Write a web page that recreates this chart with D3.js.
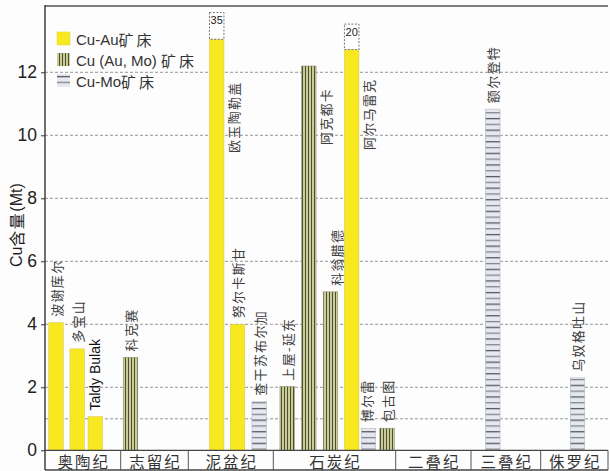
<!DOCTYPE html>
<html>
<head>
<meta charset="utf-8">
<script src="https://cdn.jsdelivr.net/npm/d3@7"></script>
<style>
  html, body { margin: 0; padding: 0; background: #fff; }
  svg { display: block; }
  text { font-family: "Liberation Sans", Arial, "Noto Sans CJK SC", sans-serif; }
  .cjk { font-family: "Noto Sans CJK SC", sans-serif; }
</style>
</head>
<body>
<svg id="chart" width="610" height="471"></svg>
<script>
// Copper deposits, their type and copper tonnage (Mt)
const deposits = ["波谢库尔", "多宝山", "Taldy Bulak", "科克赛", "欧玉陶勒盖", "努尔卡斯甘",
  "查干苏布尔加", "上屋-延东", "阿克都卡", "科翁腊德", "阿尔马雷克", "博尔雷", "包古图",
  "额尔登特", "乌奴格吐山"];
const depositTypes = ["Au", "Au", "Au", "AuMo", "Au", "Au", "Mo", "AuMo", "AuMo", "AuMo",
  "Au", "Mo", "AuMo", "Mo", "Mo"];
const cuMt = [4.05, 3.22, 1.07, 2.95, 35, 4.0, 1.54, 2.02, 12.2, 5.03, 20, 0.7, 0.7, 10.83, 2.3];

// Geological periods along the bottom strip
const periods = ["奥陶纪", "志留纪", "泥盆纪", "石炭纪", "二叠纪", "三叠纪", "侏罗纪"];

// Y axis
const yTicks = [0, 2, 4, 6, 8, 10, 12];
const yGrid = [1, 2, 4, 6, 8, 10, 12];

// Legend entries
const legendKeys = ["Au", "AuMo", "Mo"];
const legendLatin = ["Cu-Au", "Cu (Au, Mo) ", "Cu-Mo"];
const legendCjk = ["矿床", "矿床", "矿床"];

// ---- layout (horizontal slot units, 1 unit = 10 px) ----
const slotCenter = [1.1, 3.22, 5.03, 8.55, 17.17, 19.25, 21.42, 24.22, 26.38, 28.55, 30.67,
  32.35, 34.2, 44.78, 53.25];
const periodEdges = [0, 7.57, 14.33, 22.83, 35.07, 42.6, 49.57, 56.3];
const barUnits = 1.45;
// axis break: the two off-scale bars are cut here, a dashed box carries the value
const breakTop = { 4: 13.05, 10: 12.72 };
const breakBoxTop = { 4: 13.9, 10: 13.53 };
// labels set beside the bar instead of above it (value where the text starts)
const sideLabel = { 4: 9.44, 8: 9.69, 10: 9.53 };
const labelShift = { 9: 6, 11: -2.5 };

const svg = d3.select("#chart");
const W = 610, H = 471;
const plotLeft = 45, plotRight = 608, plotTop = 6, baseY = 450.3, stripBottom = 470;

const x = d3.scaleLinear().domain([0, 56.3]).range([plotLeft, plotRight]);
const y = d3.scaleLinear().domain([0, 12]).range([baseY, baseY - 378]);

svg.append("rect").attr("width", W).attr("height", H).attr("fill", "#fdfdfd");

// ---- patterns ----
const defs = svg.append("defs");
const pv = defs.append("pattern").attr("id", "pAuMo").attr("patternUnits", "userSpaceOnUse")
  .attr("width", 3).attr("height", 10);
pv.append("rect").attr("width", 3).attr("height", 10).attr("fill", "#c9cd95");
pv.append("rect").attr("x", 2).attr("width", 1).attr("height", 10).attr("fill", "#4d4f38");

const ph = defs.append("pattern").attr("id", "pMo").attr("patternUnits", "userSpaceOnUse")
  .attr("width", 10).attr("height", 11.6);
ph.append("rect").attr("width", 10).attr("height", 11.6).attr("fill", "#e5e9ef");
ph.append("rect").attr("y", 2).attr("width", 10).attr("height", 1.2).attr("fill", "#4a4c52");
ph.append("rect").attr("y", 7.8).attr("width", 10).attr("height", 1.2).attr("fill", "#7a7d84");

const fills = { Au: "#f8e820", AuMo: "url(#pAuMo)", Mo: "url(#pMo)" };
const strokes = { Au: "#d8cc60", AuMo: "#8c8e70", Mo: "#b4b8c0" };

// ---- grid ----
svg.append("g").selectAll("line").data(yGrid).join("line")
  .attr("x1", plotLeft).attr("x2", plotRight)
  .attr("y1", d => y(d)).attr("y2", d => y(d))
  .attr("stroke", "#8a8a8a").attr("stroke-width", 0.9).attr("stroke-dasharray", "3,2");

// ---- bars ----
const bars = deposits.map((name, i) => ({
  name, i, type: depositTypes[i], v: cuMt[i],
  shown: breakTop[i] !== undefined ? breakTop[i] : cuMt[i],
  cx: x(slotCenter[i])
}));
const bw = x(barUnits) - x(0);

svg.append("g").selectAll("rect").data(bars).join("rect")
  .attr("x", d => d.cx - bw / 2).attr("width", bw)
  .attr("y", d => y(d.shown)).attr("height", d => baseY - y(d.shown))
  .attr("fill", d => fills[d.type])
  .attr("stroke", d => strokes[d.type]).attr("stroke-width", 0.6);

// broken bars: dashed box holding the true value
const broken = bars.filter(d => breakTop[d.i] !== undefined);
svg.append("g").selectAll("rect").data(broken).join("rect")
  .attr("x", d => d.cx - bw / 2).attr("width", bw)
  .attr("y", d => y(breakBoxTop[d.i])).attr("height", d => y(d.shown) - y(breakBoxTop[d.i]))
  .attr("fill", "#fff").attr("stroke", "#555").attr("stroke-width", 0.8)
  .attr("stroke-dasharray", "2,1.5");
svg.append("g").selectAll("text").data(broken).join("text")
  .attr("x", d => d.cx).attr("y", d => y(breakBoxTop[d.i]) + 12)
  .attr("text-anchor", "middle").attr("font-size", 11).attr("fill", "#222")
  .text(d => d3.format("d")(d.v));

// ---- deposit labels (vertical, reading upward) ----
const isLatin = s => /[A-Za-z]/.test(s);
svg.append("g").selectAll("text").data(bars).join("text")
  .attr("class", d => isLatin(d.name) ? null : "cjk")
  .attr("transform", d => {
    let tx, ty;
    if (sideLabel[d.i] !== undefined) {
      tx = d.cx + bw / 2 + 9.5;
      ty = y(sideLabel[d.i]);
    } else {
      tx = d.cx + (labelShift[d.i] || 0);
      ty = y(d.shown) - 6;
    }
    return `translate(${tx},${ty}) rotate(-90)`;
  })
  .attr("dominant-baseline", "central")
  .attr("font-size", d => isLatin(d.name) ? 14 : 13)
  .attr("letter-spacing", d => isLatin(d.name) ? 0 : 1.3)
  .attr("fill", d => isLatin(d.name) ? "#111" : "#3e3e3e")
  .text(d => d.name);

// ---- frame ----
svg.append("line").attr("x1", plotLeft).attr("x2", plotRight).attr("y1", plotTop).attr("y2", plotTop)
  .attr("stroke", "#7c7c7c").attr("stroke-width", 2);

// Y axis
const yAxis = d3.axisLeft(y).tickValues(yTicks).tickSize(4).tickPadding(4).tickFormat(d3.format("d"));
const ya = svg.append("g").attr("transform", `translate(${plotLeft},0)`).call(yAxis);
ya.select(".domain").remove();
ya.selectAll(".tick line").attr("stroke", "#333");
ya.selectAll(".tick text").attr("font-size", 17.5).attr("fill", "#222")
  .attr("font-family", "'Liberation Sans', Arial, sans-serif");
svg.append("line").attr("x1", plotLeft).attr("x2", plotLeft).attr("y1", plotTop - 1).attr("y2", stripBottom)
  .attr("stroke", "#333").attr("stroke-width", 1.4);

const yTitle = svg.append("text")
  .attr("transform", `translate(16,${(plotTop + baseY) / 2 - 3}) rotate(-90)`)
  .attr("text-anchor", "middle").attr("dominant-baseline", "central")
  .attr("font-size", 16).attr("fill", "#222");
yTitle.append("tspan").text("Cu");
yTitle.append("tspan").attr("class", "cjk").attr("letter-spacing", 1.5).text("含量");
yTitle.append("tspan").text("(Mt)");

// ---- period strip ----
const strip = svg.append("g");
strip.append("line").attr("x1", plotLeft).attr("x2", plotRight).attr("y1", baseY).attr("y2", baseY)
  .attr("stroke", "#444").attr("stroke-width", 1.2);
strip.append("line").attr("x1", plotLeft).attr("x2", plotRight).attr("y1", stripBottom).attr("y2", stripBottom)
  .attr("stroke", "#444").attr("stroke-width", 1.4);
strip.selectAll("line.sep").data(periodEdges.slice(1)).join("line").attr("class", "sep")
  .attr("x1", d => x(d)).attr("x2", d => x(d)).attr("y1", baseY).attr("y2", stripBottom)
  .attr("stroke", "#555").attr("stroke-width", 1);
strip.selectAll("text").data(periods).join("text").attr("class", "cjk")
  .attr("x", (d, i) => (x(periodEdges[i]) + x(periodEdges[i + 1])) / 2 + 1)
  .attr("y", (baseY + stripBottom) / 2 + 1)
  .attr("text-anchor", "middle").attr("dominant-baseline", "central")
  .attr("font-size", 15.5).attr("letter-spacing", 2).attr("fill", "#333")
  .text(d => d);

// ---- legend ----
const lg = svg.append("g").attr("transform", "translate(57,32)");
const item = lg.selectAll("g").data(legendKeys).join("g")
  .attr("transform", (d, i) => `translate(0,${i * 21})`);
item.append("rect").attr("width", 13).attr("height", 13)
  .attr("fill", d => fills[d]).attr("stroke", d => d === "Au" ? "#e0d040" : "none").attr("stroke-width", 0.5);
const lt = item.append("text").attr("x", 19).attr("y", 7).attr("dominant-baseline", "central")
  .attr("font-size", 15).attr("fill", "#333");
lt.append("tspan").text((d, i) => legendLatin[i]);
lt.append("tspan").attr("class", "cjk").attr("letter-spacing", 3).text((d, i) => legendCjk[i]);
</script>
</body>
</html>
